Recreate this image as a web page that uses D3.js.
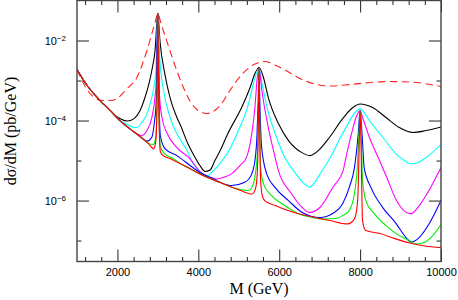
<!DOCTYPE html>
<html>
<head>
<meta charset="utf-8">
<script src="https://cdn.jsdelivr.net/npm/d3@7"></script>
<style>
  body { margin: 0; background: #fff; }
  svg { display: block; }
</style>
</head>
<body>
<div class="chart"></div>
<script>
// values: [M (GeV), dsigma/dM (pb/GeV)]
var redDashed = [[1000,1.88e-3],[1320,4.73e-4],[1640,3.16e-4],[1820,3.16e-4],[1990,3.55e-4],[2240,6.31e-4],[2480,1.19e-3],[2730,5.62e-3],[2930,2.82e-2],[3000,4.73e-2],[3070,2.82e-2],[3240,8.41e-3],[3380,3.16e-3],[3620,7.08e-4],[3870,2.37e-4],[4210,1.5e-4],[4540,2.37e-4],[4780,5.62e-4],[5100,1.5e-3],[5400,2.59e-3],[5620,2.99e-3],[6070,2.0e-3],[6560,1.06e-3],[6880,8.2e-4],[7260,7.3e-4],[7750,7.94e-4],[8240,8.91e-4],[8740,9.44e-4],[9230,9.2e-4],[10000,7.08e-4]];

var black = [[1000,1.88e-3],[1250,7.5e-4],[1500,3.76e-4],[1820,1.78e-4],[1940,1.37e-4],[2060,1.12e-4],[2240,9.7e-5],[2410,1.12e-4],[2560,1.78e-4],[2680,3.76e-4],[2780,8.41e-4],[2850,1.78e-3],[2930,5.62e-3],[3000,4.8e-2],[3050,1.0e-2],[3180,1.33e-3],[3300,3.76e-4],[3470,1.19e-4],[3550,7.94e-5],[3740,2.66e-5],[3920,1.19e-5],[4040,7.5e-6],[4170,5.31e-6],[4290,5.8e-6],[4410,1.0e-5],[4540,1.78e-5],[4730,4.73e-5],[5070,2.11e-4],[5280,6.68e-4],[5400,1.5e-3],[5500,2.11e-3],[5610,1.19e-3],[5730,3.76e-4],[5980,8.41e-5],[6230,3.16e-5],[6560,1.58e-5],[6760,1.33e-5],[7010,1.96e-5],[7240,3.76e-5],[7570,1.12e-4],[7820,2.11e-4],[8000,2.59e-4],[8310,2.11e-4],[8640,1.19e-4],[8970,6.68e-5],[9300,5.01e-5],[9630,5.62e-5],[10000,6.88e-5]];

var cyan = [[1000,1.88e-3],[1250,7.5e-4],[1500,3.76e-4],[1820,1.78e-4],[2060,1.0e-4],[2240,7.94e-5],[2400,6.8e-5],[2480,6.68e-5],[2610,9.1e-5],[2730,1.47e-4],[2810,2.61e-4],[2900,6.8e-4],[2950,1.78e-3],[3000,4.8e-2],[3050,3.16e-3],[3140,5.62e-4],[3300,1.21e-4],[3470,4.65e-5],[3720,1.78e-5],[3870,8.41e-6],[3970,6.31e-6],[4130,4.22e-6],[4210,4.1e-6],[4370,5.62e-6],[4490,7.5e-6],[4610,1.06e-5],[4730,1.58e-5],[4990,5.62e-5],[5240,2.61e-4],[5360,8.3e-4],[5500,2.0e-3],[5570,8.91e-4],[5700,2.11e-4],[5900,4.73e-5],[6140,1.19e-5],[6390,5.01e-6],[6590,2.82e-6],[6760,2.17e-6],[6910,3.16e-6],[7060,5.62e-6],[7160,7.94e-6],[7330,1.58e-5],[7500,3.55e-5],[7650,6.68e-5],[7850,1.47e-4],[8000,1.96e-4],[8230,1.0e-4],[8560,3.82e-5],[8890,1.47e-5],[9060,1.06e-5],[9260,8.3e-6],[9430,8.91e-6],[9630,1.19e-5],[10000,2.51e-5]];

var magenta = [[1000,1.88e-3],[1250,7.5e-4],[1500,3.76e-4],[1820,1.78e-4],[2060,1.0e-4],[2310,6.2e-5],[2430,5.01e-5],[2600,4.22e-5],[2730,5.62e-5],[2850,1.19e-4],[2920,3.16e-4],[2960,1.0e-3],[3000,4.8e-2],[3040,4.22e-4],[3100,1.19e-4],[3230,4.73e-5],[3470,2.11e-5],[3790,1.12e-5],[4040,5.31e-6],[4270,3.9e-6],[4450,3.45e-6],[4610,3.76e-6],[4820,4.65e-6],[5070,8.3e-6],[5150,1.0e-5],[5220,1.47e-5],[5320,4.65e-5],[5400,2.15e-4],[5450,1.0e-3],[5500,2.0e-3],[5570,5.62e-4],[5720,7.5e-5],[5870,1.58e-5],[5980,5.62e-6],[6300,1.5e-6],[6560,6.8e-7],[6760,5.01e-7],[7010,6.8e-7],[7340,2.24e-6],[7580,5.62e-6],[7650,1.19e-5],[7800,5.31e-5],[7900,1.19e-4],[8000,1.78e-4],[8060,1.21e-4],[8230,3.82e-5],[8480,1.0e-5],[8660,3.76e-6],[8900,1.0e-6],[9150,5.01e-7],[9260,4.73e-7],[9480,7.94e-7],[9730,2.0e-6],[10000,6.68e-6]];

var blue = [[1000,1.88e-3],[1250,7.5e-4],[1500,3.76e-4],[1820,1.78e-4],[2060,1.0e-4],[2310,6.2e-5],[2560,3.98e-5],[2730,3.05e-5],[2850,3.82e-5],[2910,8.41e-5],[2960,3.16e-4],[3000,4.8e-2],[3030,3.16e-4],[3060,4.22e-5],[3180,1.96e-5],[3470,1.33e-5],[3800,7.5e-6],[4040,5.01e-6],[4300,3.76e-6],[4580,2.74e-6],[4820,2.37e-6],[5150,2.86e-6],[5320,4.65e-6],[5400,1.0e-5],[5450,4.22e-5],[5480,3.16e-4],[5500,2.11e-3],[5520,3.16e-4],[5560,2.37e-5],[5690,4.65e-6],[5900,2.11e-6],[6230,1.0e-6],[6560,5.1e-7],[7010,3.76e-7],[7320,4.73e-7],[7570,8.41e-7],[7730,2.11e-6],[7860,6.68e-6],[7950,4.22e-5],[8000,1.78e-4],[8050,4.22e-5],[8100,6.68e-6],[8270,2.11e-6],[8560,6.68e-7],[8890,2.66e-7],[9130,1.21e-7],[9260,9.2e-8],[9460,1.19e-7],[9710,2.66e-7],[10000,1.0e-6]];

var green = [[1000,1.88e-3],[1250,7.5e-4],[1500,3.76e-4],[1820,1.78e-4],[2060,1.0e-4],[2310,6.2e-5],[2560,3.98e-5],[2760,2.7e-5],[2880,2.51e-5],[2940,3.55e-5],[2975,1.78e-4],[3000,4.8e-2],[3025,1.78e-4],[3060,2.37e-5],[3140,1.58e-5],[3390,1.1e-5],[3550,8.41e-6],[3790,6.31e-6],[4040,4.6e-6],[4290,3.55e-6],[4540,2.82e-6],[4780,2.24e-6],[4990,1.94e-6],[5240,1.78e-6],[5360,2.61e-6],[5420,5.62e-6],[5460,1.5e-5],[5485,1.78e-4],[5500,2.11e-3],[5515,1.78e-4],[5535,7.5e-6],[5610,2.61e-6],[5810,1.33e-6],[6140,7.5e-7],[6470,4.65e-7],[6800,3.82e-7],[7100,3.45e-7],[7400,3.55e-7],[7570,4.22e-7],[7730,5.62e-7],[7860,1.5e-6],[7920,4.73e-6],[7970,4.22e-5],[8000,1.78e-4],[8030,4.22e-5],[8060,3.16e-6],[8140,1.0e-6],[8350,4.73e-7],[8640,2.37e-7],[8970,1.33e-7],[9220,1.0e-7],[9380,8.2e-8],[9550,8.7e-8],[9750,1.19e-7],[10000,2.51e-7]];

var red = [[1000,1.88e-3],[1250,7.5e-4],[1500,3.76e-4],[1820,1.78e-4],[2060,1.0e-4],[2310,6.2e-5],[2560,3.98e-5],[2760,2.7e-5],[2896,1.96e-5],[2950,3.16e-5],[2980,3.16e-4],[3000,4.8e-2],[3020,3.16e-4],[3060,1.68e-5],[3130,1.33e-5],[3300,1.12e-5],[3550,8.41e-6],[3790,6.31e-6],[4040,4.6e-6],[4290,3.55e-6],[4540,2.82e-6],[4780,2.24e-6],[5030,1.8e-6],[5330,1.46e-6],[5420,2.11e-6],[5460,5.62e-6],[5485,1.0e-4],[5500,2.11e-3],[5515,1.0e-4],[5540,3.16e-6],[5580,1.33e-6],[5640,1.0e-6],[5900,7.5e-7],[6220,5.62e-7],[6510,4.6e-7],[6880,3.76e-7],[7260,3.16e-7],[7690,2.61e-7],[7860,3.48e-7],[7940,1.0e-6],[7975,1.78e-5],[8000,1.78e-4],[8025,1.78e-5],[8060,3.16e-7],[8140,1.78e-7],[8490,1.5e-7],[8860,1.12e-7],[9230,8.7e-8],[9600,7.3e-8],[10000,6.68e-8]];

var xMajor = [2000, 4000, 6000, 8000, 10000];
var xMinor = [1200, 1600, 2400, 2800, 3200, 3600, 4400, 4800, 5200, 5600, 6400, 6800, 7200, 7600, 8400, 8800, 9200, 9600];
var yMajor = [1e-2, 1e-4, 1e-6];
var yMinor = [1e-3, 1e-5, 1e-7];

var series = [
  {data: redDashed, color: "#ff2020", dash: "7.5,4.5"},
  {data: black, color: "#000"},
  {data: cyan, color: "#00ffff"},
  {data: magenta, color: "#ff00ff"},
  {data: blue, color: "#0000ff"},
  {data: green, color: "#00ee00"},
  {data: red, color: "#ff0000"}
];

var w = 458, h = 300;
var plot = {left: 77, right: 441, top: 0.5, bottom: 261.5};

var x = d3.scaleLinear().domain([1000, 10000]).range([plot.left, plot.right]);
var y = d3.scaleLog().domain([3e-8, 0.1]).range([plot.bottom, plot.top]);

var svg = d3.select("div.chart").append("svg")
    .attr("width", w)
    .attr("height", h)
    .attr("viewBox", `0 0 ${w} ${h}`);

svg.append("clipPath").attr("id", "clip")
  .append("rect")
    .attr("x", plot.left).attr("y", plot.top)
    .attr("width", plot.right - plot.left)
    .attr("height", plot.bottom - plot.top);

var line = d3.line()
    .x(d => x(d[0]))
    .y(d => y(d[1]))
    .curve(d3.curveMonotoneX);

//curves
svg.append("g").attr("clip-path", "url(#clip)")
  .selectAll("path")
  .data(series)
  .enter()
  .append("path")
    .attr("d", d => line(d.data))
    .attr("fill", "none")
    .attr("stroke", d => d.color)
    .attr("stroke-width", 1.1)
    .attr("stroke-dasharray", d => d.dash || null)
    .attr("stroke-linejoin", "round");

//axes, ticks pointing inwards on all four sides
function styleAxis(g) {
  g.select(".domain").remove();
  g.selectAll(".tick line").attr("stroke", "#222").attr("stroke-width", 1);
  g.selectAll(".tick text")
    .attr("fill", "#000")
    .attr("font-family", "'Liberation Sans', Arial, sans-serif")
    .attr("font-size", "11px");
}

svg.append("g")
    .attr("transform", `translate(0,${plot.bottom})`)
    .call(d3.axisBottom(x).tickValues(xMajor).tickSize(-12).tickPadding(7).tickFormat(d3.format("d")))
    .call(styleAxis);
svg.append("g")
    .attr("transform", `translate(0,${plot.bottom})`)
    .call(d3.axisBottom(x).tickValues(xMinor).tickSize(-4.5).tickFormat(""))
    .call(styleAxis);
svg.append("g")
    .attr("transform", `translate(0,${plot.top})`)
    .call(d3.axisTop(x).tickValues(xMajor).tickSize(-12).tickFormat(""))
    .call(styleAxis);
svg.append("g")
    .attr("transform", `translate(0,${plot.top})`)
    .call(d3.axisTop(x).tickValues(xMinor).tickSize(-4.5).tickFormat(""))
    .call(styleAxis);

var yLeft = svg.append("g")
    .attr("transform", `translate(${plot.left},0)`)
    .call(d3.axisLeft(y).tickValues(yMajor).tickSize(-12).tickPadding(11).tickFormat(""))
    .call(styleAxis);
svg.append("g")
    .attr("transform", `translate(${plot.left},0)`)
    .call(d3.axisLeft(y).tickValues(yMinor).tickSize(-4.5).tickFormat(""))
    .call(styleAxis);
svg.append("g")
    .attr("transform", `translate(${plot.right},0)`)
    .call(d3.axisRight(y).tickValues(yMajor).tickSize(-12).tickFormat(""))
    .call(styleAxis);
svg.append("g")
    .attr("transform", `translate(${plot.right},0)`)
    .call(d3.axisRight(y).tickValues(yMinor).tickSize(-4.5).tickFormat(""))
    .call(styleAxis);

//10^n labels with superscript
yLeft.selectAll(".tick text").each(function(d) {
  var t = d3.select(this);
  t.append("tspan").text("10");
  t.append("tspan")
    .attr("dy", "-0.5em")
    .attr("font-size", "8px")
    .text("\u2212" + Math.round(-Math.log10(d)));
});

//frame
svg.append("rect")
    .attr("x", plot.left).attr("y", plot.top)
    .attr("width", plot.right - plot.left)
    .attr("height", plot.bottom - plot.top)
    .attr("fill", "none")
    .attr("stroke", "#444")
    .attr("stroke-width", 1.4);

//axis titles
svg.append("text")
    .attr("x", (plot.left + plot.right) / 2)
    .attr("y", 294)
    .attr("text-anchor", "middle")
    .attr("font-family", "'Liberation Serif', 'Times New Roman', serif")
    .attr("font-size", "16px")
    .text("M (GeV)");

svg.append("text")
    .attr("transform", `translate(16,${(plot.top + plot.bottom) / 2}) rotate(-90)`)
    .attr("text-anchor", "middle")
    .attr("font-family", "'Liberation Serif', 'Times New Roman', serif")
    .attr("font-size", "16px")
    .text("d\u03c3/dM (pb/GeV)");
</script>
</body>
</html>
